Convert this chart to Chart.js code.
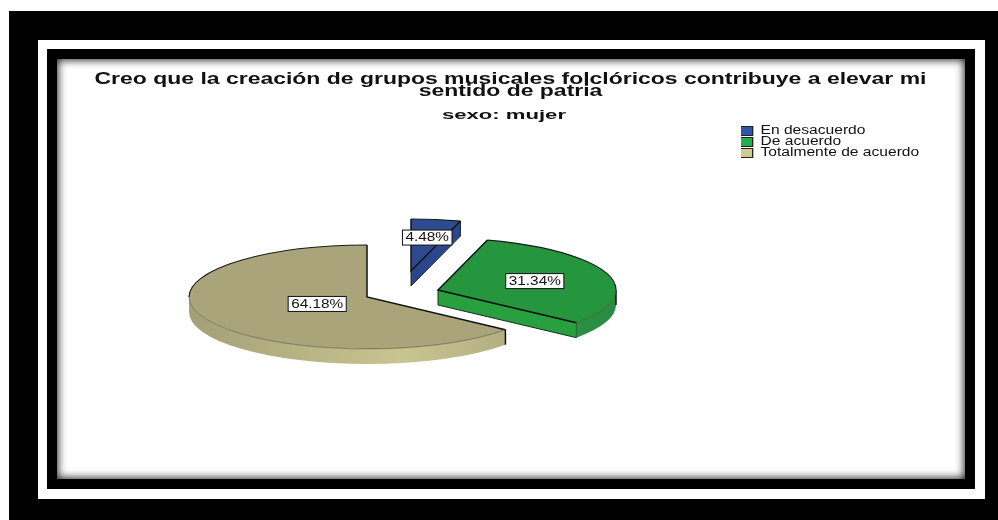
<!DOCTYPE html>
<html>
<head>
<meta charset="utf-8">
<script src="https://cdn.jsdelivr.net/npm/chart.js@4"></script>
<style>
  html, body { margin: 0; background: #fff; }
  .outer { position: absolute; left: 9px; top: 11px; width: 989px; height: 509px; background: #000; }
  .band { position: absolute; left: 38px; top: 40px; width: 947px; height: 459px; background: #fff; }
  .frame { position: absolute; left: 47px; top: 49px; width: 928px; height: 440px; background: #000; }
  .panel { position: absolute; left: 57px; top: 59px; width: 908px; height: 420px; background: #fff;
           box-shadow: inset 0 0 9px 1px #222; }
  canvas { position: absolute; left: 57px; top: 59px; filter: blur(0.4px); }
</style>
</head>
<body>
<div class="outer"></div><div class="band"></div><div class="frame"></div><div class="panel"></div>
<canvas id="pie" width="908" height="420"></canvas>
<script>
const titleLines = ['Creo que la creación de grupos musicales folclóricos contribuye a elevar mi', 'sentido de patria'];
const subtitleText = 'sexo: mujer';
const categories = ['En desacuerdo', 'De acuerdo', 'Totalmente de acuerdo'];
const percents = [4.48, 31.34, 64.18];

const legendColors = ['#2f55a8', '#22b04b', '#d0cc90'];
const faceColors = ['#2f4b90', '#26963e', '#a9a47a'];
const wallStops = [['#27407f', '#27407f', '#27407f'], ['#2a9f40', '#2aa040', '#2b8a44'], ['#a3a078', '#c9c590', '#aaa67e']];
const cutColors = ['#2b468c', '#28a03f', '#a9a47a'];
const shiftX = [44, 71, 0];
const shiftY = [-26, -7, 0];
const labelRadius = [0.65, 0.57, 0.31];

const tilt = 0.292;
const depth = 15;

// the source picture was stretched sideways, so its text is wider than tall
const titleStretch = 1.435;
const subtitleStretch = 1.84;
const legendStretch = 1.3;
const labelStretch = 1.28;

function drawSlice(ctx, arc, i) {
  const R = arc.outerRadius, s = arc.startAngle, e = arc.endAngle;
  const cx = arc.x + shiftX[i], cy = arc.y + shiftY[i];
  const ry = R * tilt;
  const px = a => cx + R * Math.cos(a);
  const py = a => cy + ry * Math.sin(a);

  // cut face on the clockwise end of the slice
  if (Math.cos(e) > 0.001) {
    ctx.beginPath();
    ctx.moveTo(cx, cy);
    ctx.lineTo(px(e), py(e));
    ctx.lineTo(px(e), py(e) + depth);
    ctx.lineTo(cx, cy + depth);
    ctx.closePath();
    ctx.fillStyle = cutColors[i];
    ctx.fill();
    ctx.strokeStyle = '#14301c';
    ctx.lineWidth = 1;
    ctx.stroke();
  }

  // rounded wall, only the part facing the viewer
  const a0 = Math.max(s, 0), a1 = Math.min(e, Math.PI);
  if (a1 > a0) {
    const g = ctx.createLinearGradient(cx - R, 0, cx + R, 0);
    g.addColorStop(0, wallStops[i][0]);
    g.addColorStop(0.6, wallStops[i][1]);
    g.addColorStop(1, wallStops[i][2]);
    ctx.beginPath();
    ctx.ellipse(cx, cy, R, ry, 0, a0, a1);
    ctx.ellipse(cx, cy + depth, R, ry, 0, a1, a0, true);
    ctx.closePath();
    ctx.fillStyle = g;
    ctx.fill();
    ctx.strokeStyle = '#111';
    ctx.lineWidth = 1.5;
    ctx.beginPath();
    ctx.moveTo(px(a0), py(a0));
    ctx.lineTo(px(a0), py(a0) + depth);
    ctx.stroke();
  }

  // top face
  ctx.beginPath();
  ctx.moveTo(cx, cy);
  ctx.ellipse(cx, cy, R, ry, 0, s, e);
  ctx.closePath();
  ctx.fillStyle = faceColors[i];
  ctx.fill();

  // front rim is soft, back rim and radial edges are dark
  if (a1 > a0) {
    ctx.beginPath();
    ctx.ellipse(cx, cy, R, ry, 0, a0, a1);
    ctx.strokeStyle = 'rgba(40,50,30,0.45)';
    ctx.lineWidth = 1;
    ctx.stroke();
  }
  const backA = s < 0 ? s : Math.PI, backB = Math.min(e, s < 0 ? 0 : 2 * Math.PI - Math.PI / 2);
  ctx.beginPath();
  ctx.ellipse(cx, cy, R, ry, 0, backA, backB);
  ctx.strokeStyle = '#1a1a1a';
  ctx.lineWidth = 1.2;
  ctx.stroke();
  ctx.beginPath();
  ctx.moveTo(px(s), py(s));
  ctx.lineTo(cx, cy);
  ctx.lineTo(px(e), py(e));
  ctx.strokeStyle = '#111';
  ctx.lineWidth = 1.5;
  ctx.stroke();
}

function drawLabel(ctx, arc, i) {
  const mid = (arc.startAngle + arc.endAngle) / 2;
  const r = arc.outerRadius * labelRadius[i];
  const x = arc.x + shiftX[i] + r * Math.cos(mid);
  const y = arc.y + shiftY[i] + r * tilt * Math.sin(mid);
  const text = percents[i].toFixed(2) + '%';
  ctx.save();
  ctx.font = '12px "Liberation Sans"';
  ctx.textAlign = 'center';
  ctx.textBaseline = 'middle';
  const w = ctx.measureText(text).width * labelStretch + 6;
  ctx.fillStyle = '#fff';
  ctx.strokeStyle = '#111';
  ctx.lineWidth = 1;
  ctx.fillRect(x - w / 2, y - 7.5, w, 15);
  ctx.strokeRect(x - w / 2, y - 7.5, w, 15);
  ctx.translate(x, 0);
  ctx.scale(labelStretch, 1);
  ctx.fillStyle = '#111';
  ctx.fillText(text, 0, y + 0.5);
  ctx.restore();
}

function stretchBox(ctx, box, sx, anchorX) {
  if (box._stretched) return;
  const draw = box.draw;
  box.draw = function () {
    ctx.save();
    ctx.translate(anchorX, 0);
    ctx.scale(sx, 1);
    ctx.translate(-anchorX, 0);
    draw.apply(box, arguments);
    ctx.restore();
  };
  box._stretched = true;
}

// tilted pie with a side wall, built on the arcs the pie controller computed
const tiltedPie = {
  id: 'tiltedPie',
  afterLayout(chart) {
    const sub = chart.boxes.find(b => b.options && b.options.text === subtitleText);
    chart.titleBlock.left = 0;
    chart.titleBlock.right = 907;
    sub.left = -7;
    sub.right = 901;
    chart.legend.left = 684;
    chart.legend.right = 900;
    chart.legend.top = 61;
    chart.legend.bottom = 110;
  },
  beforeDraw(chart) {
    const ctx = chart.ctx;
    const sub = chart.boxes.find(b => b.options && b.options.text === subtitleText);
    stretchBox(ctx, chart.titleBlock, titleStretch, 453.5);
    stretchBox(ctx, sub, subtitleStretch, 447);
    stretchBox(ctx, chart.legend, legendStretch, 684);
  },
  beforeDatasetDraw(chart, args) {
    const ctx = chart.ctx;
    const arcs = args.meta.data;
    arcs.forEach((arc, i) => drawSlice(ctx, arc, i));
    arcs.forEach((arc, i) => drawLabel(ctx, arc, i));
    return false;
  }
};

new Chart(document.getElementById('pie'), {
  type: 'pie',
  data: {
    labels: categories,
    datasets: [{
      data: percents,
      backgroundColor: legendColors,
      borderColor: '#222',
      borderWidth: 1,
      radius: 178
    }]
  },
  options: {
    responsive: false,
    animation: false,
    events: [],
    layout: { padding: { right: 288, bottom: 8 } },
    plugins: {
      title: {
        display: true,
        text: titleLines,
        color: '#111',
        font: { family: '"Liberation Sans"', size: 16, weight: 'bold', lineHeight: '12px' },
        padding: { top: 15, bottom: 0 }
      },
      subtitle: {
        display: true,
        text: subtitleText,
        color: '#111',
        font: { family: '"Liberation Sans"', size: 12, weight: 'bold', lineHeight: '14px' },
        padding: { top: 11, bottom: 0 }
      },
      legend: {
        position: 'chartArea',
        align: 'start',
        // blank title only pushes the rows down inside the legend's clip box
        title: { display: true, text: ' ', padding: 0, font: { size: 6, lineHeight: '6px' } },
        labels: {
          boxWidth: 10,
          boxHeight: 9,
          padding: -1,
          color: '#111',
          font: { family: '"Liberation Sans"', size: 12, lineHeight: '11px' }
        }
      },
      tooltip: { enabled: false }
    }
  },
  plugins: [tiltedPie]
});
</script>
</body>
</html>
